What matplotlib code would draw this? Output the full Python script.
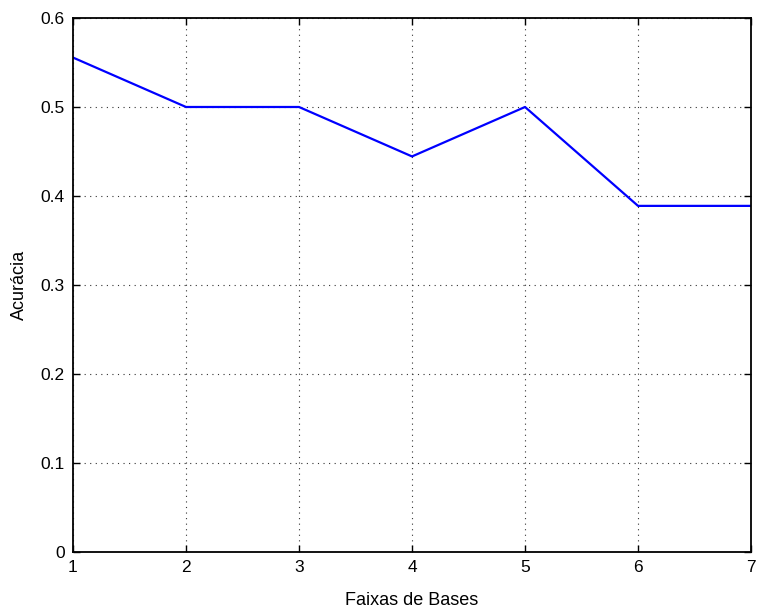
import matplotlib
matplotlib.use("Agg")
import matplotlib.pyplot as plt

# accuracy per base range
faixas = [1, 2, 3, 4, 5, 6, 7]
acuracia = [10 / 18, 9 / 18, 9 / 18, 8 / 18, 9 / 18, 7 / 18, 7 / 18]
yticks = [0, 0.1, 0.2, 0.3, 0.4, 0.5, 0.6]
ytick_labels = ["0", "0.1", "0.2", "0.3", "0.4", "0.5", "0.6"]

plt.rcParams["font.family"] = ["Liberation Sans", "DejaVu Sans"]

fig = plt.figure(figsize=(7.58, 6.14), dpi=100)
ax = fig.add_axes([0.0963, 0.101, 0.8945, 0.8697])

ax.plot(faixas, acuracia, color="#0000ff", lw=1.6)

ax.set_xlim(1, 7)
ax.set_ylim(0, 0.6)
ax.set_xticks(faixas)
ax.set_yticks(yticks)
ax.set_yticklabels(ytick_labels)
ax.tick_params(direction="in", top=True, right=True, length=5, width=1,
               labelsize=12.5, pad=6)
ax.grid(True, color="#333333", linestyle=(0, (1, 4)), linewidth=0.8)
for s in ax.spines.values():
    s.set_linewidth(1.3)

ax.set_xlabel("Faixas de Bases", fontsize=13, labelpad=12)
ax.set_ylabel("Acurácia", fontsize=13, labelpad=9)

fig.savefig("out.png", dpi=100)
